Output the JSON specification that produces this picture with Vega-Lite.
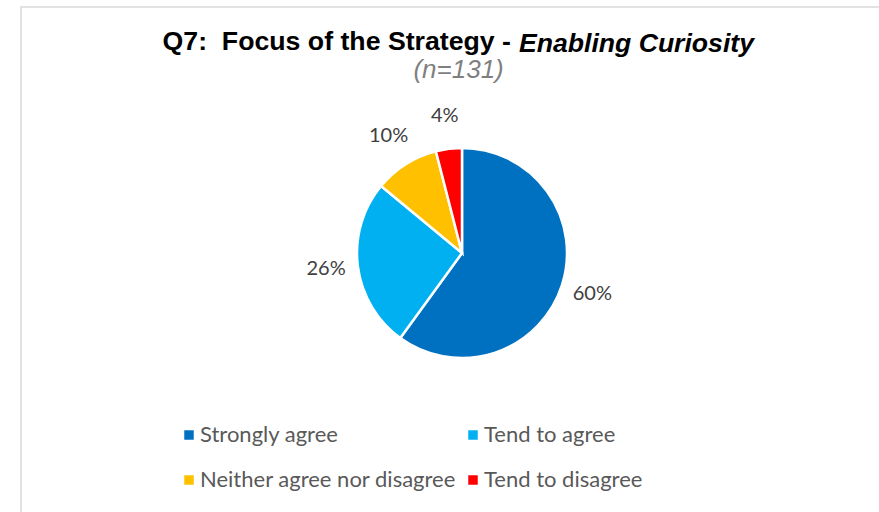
{
  "$schema": "https://vega.github.io/schema/vega-lite/v6.json",
  "padding": {"left": 20, "top": 6, "right": 0, "bottom": 0},
  "background": "white",
  "title": {
    "text": "Q7:\u00a0 Focus of the Strategy -",
    "subtitle": "(n=131)\u00a0\u200b",
    "anchor": "start",
    "align": "right",
    "frame": "group",
    "dx": 490,
    "offset": -76.5,
    "font": "Liberation Sans",
    "fontSize": 26.7,
    "fontWeight": "bold",
    "color": "#000000",
    "subtitleFont": "Liberation Sans",
    "subtitleFontSize": 26,
    "subtitleFontStyle": "italic",
    "subtitleColor": "#7f7f7f",
    "subtitlePadding": 1
  },
  "vconcat": [
    {
      "width": 882,
      "height": 512,
      "view": {"stroke": "#d9d9d9", "strokeWidth": 1.5, "fill": null},
      "title": {
        "text": "Enabling Curiosity",
        "anchor": "start",
        "align": "left",
        "frame": "group",
        "dx": 498,
        "offset": -50.5,
        "font": "Liberation Sans",
        "fontSize": 26.6,
        "fontWeight": "bold",
        "fontStyle": "italic",
        "color": "#000000"
      },
      "data": {
        "values": [
          {"response": "Strongly agree", "share": 0.60, "k": 1},
          {"response": "Tend to agree", "share": 0.26, "k": 2},
          {"response": "Neither agree nor disagree", "share": 0.10, "k": 3},
          {"response": "Tend to disagree", "share": 0.04, "k": 4}
        ]
      },
      "encoding": {
        "theta": {"field": "share", "type": "quantitative", "stack": true},
        "order": {"field": "k", "type": "quantitative"}
      },
      "layer": [
        {
          "mark": {"type": "arc", "outerRadius": 105, "stroke": "white", "strokeWidth": 2.5, "yOffset": -10},
          "encoding": {
            "color": {
              "field": "response",
              "type": "nominal",
              "scale": {
                "domain": ["Strongly agree", "Tend to agree", "Neither agree nor disagree", "Tend to disagree"],
                "range": ["#0070C0", "#00B0F0", "#FFC000", "#FF0000"]
              },
              "legend": {
                "orient": "none",
                "legendX": 157,
                "legendY": 417,
                "columns": 2,
                "direction": "horizontal",
                "title": null,
                "symbolType": "square",
                "symbolSize": 90,
                "symbolStrokeWidth": 0,
                "labelFont": "Lato",
                "labelFontSize": 22,
                "labelColor": "#595959",
                "columnPadding": 5,
                "rowPadding": 23,
                "labelOffset": 0,
                "padding": 0,
                "labelLimit": 400
              }
            }
          }
        },
        {
          "mark": {"type": "text", "radius": 137, "yOffset": -11, "font": "Lato", "fontSize": 20, "color": "#404040"},
          "encoding": {
            "text": {"field": "share", "type": "quantitative", "format": ".0%"}
          }
        }
      ]
    }
  ],
  "config": {
    "view": {"stroke": "#d9d9d9", "strokeWidth": 1.5},
    "style": {"cell": {"stroke": "#d9d9d9", "strokeWidth": 1.5}}
  }
}
